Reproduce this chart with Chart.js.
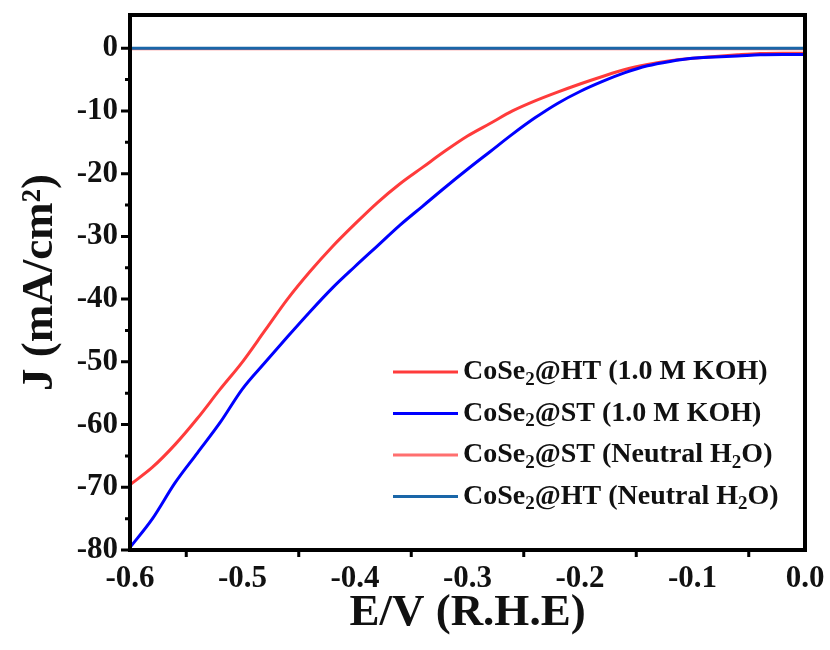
<!DOCTYPE html>
<html>
<head>
<meta charset="utf-8">
<script src="https://cdn.jsdelivr.net/npm/chart.js@4/dist/chart.umd.min.js"></script>
<style>
  html, body { margin: 0; padding: 0; background: #fff; }
  #wrap { width: 830px; height: 650px; }
</style>
</head>
<body>
<div id="wrap"><canvas id="lsv" width="830" height="650"></canvas></div>
<script>
// potential (V vs RHE)
const potential = [-0.60, -0.58, -0.56, -0.54, -0.52, -0.50, -0.48, -0.46, -0.44, -0.42,
  -0.40, -0.38, -0.36, -0.34, -0.32, -0.30, -0.28, -0.26, -0.24, -0.22,
  -0.20, -0.18, -0.16, -0.14, -0.12, -0.10, -0.08, -0.06, -0.04, -0.02, 0.00];

// current density (mA/cm2)
const htKOH = [-69.6, -66.8, -63.2, -59.0, -54.4, -50.0, -45.0, -40.0, -35.6, -31.6,
  -28.0, -24.6, -21.6, -19.0, -16.4, -14.0, -12.0, -10.0, -8.4, -7.0,
  -5.7, -4.5, -3.4, -2.6, -2.0, -1.6, -1.3, -1.05, -0.85, -0.8, -0.8];
const stKOH = [-79.6, -75.0, -69.3, -64.5, -59.7, -54.3, -50.1, -46.0, -42.0, -38.2,
  -34.8, -31.5, -28.2, -25.2, -22.2, -19.3, -16.5, -13.7, -11.1, -8.8,
  -6.9, -5.3, -3.9, -2.8, -2.1, -1.6, -1.4, -1.25, -1.05, -1.0, -1.0];
const stH2O = [-0.1, -0.1, -0.1, -0.1, -0.1, -0.1, -0.1, -0.1, -0.1, -0.1,
  -0.1, -0.1, -0.1, -0.1, -0.1, -0.1, -0.1, -0.1, -0.1, -0.1,
  -0.1, -0.1, -0.1, -0.1, -0.1, -0.1, -0.1, -0.1, -0.1, -0.1, -0.1];
const htH2O = [0, 0, 0, 0, 0, 0, 0, 0, 0, 0,
  0, 0, 0, 0, 0, 0, 0, 0, 0, 0,
  0, 0, 0, 0, 0, 0, 0, 0, 0, 0, 0];

const labels = ['CoSe₂@HT (1.0 M KOH)', 'CoSe₂@ST (1.0 M KOH)', 'CoSe₂@ST (Neutral H₂O)', 'CoSe₂@HT (Neutral H₂O)'];
const colors = ['#ff3b3b', '#0000ff', '#ff6f6f', '#1a66a8'];
const series = [htKOH, stKOH, stH2O, htH2O];
const drawOrder = [2, 1, 3, 0];

const serif = '"Liberation Serif", "Times New Roman", serif';

const datasets = series.map((s, i) => ({
  label: labels[i],
  data: potential.map((x, j) => ({ x: x, y: s[j] })),
  borderColor: colors[i],
  borderWidth: 3,
  pointRadius: 0,
  cubicInterpolationMode: 'monotone',
  order: drawOrder[i]
}));

// frame, tick marks and legend with subscripts
const frame = {
  id: 'frame',
  afterDraw(chart) {
    const { ctx, chartArea: a, scales } = chart;
    const xs = scales.x, ys = scales.y;
    ctx.save();
    ctx.strokeStyle = '#000';
    ctx.lineWidth = 4;
    ctx.strokeRect(a.left, a.top, a.right - a.left, a.bottom - a.top);
    ctx.lineWidth = 3;
    ctx.beginPath();
    for (let v = -80; v <= 0; v += 5) {
      const y = ys.getPixelForValue(v);
      const len = v % 10 === 0 ? 9 : 5;
      ctx.moveTo(a.left - len, y);
      ctx.lineTo(a.left, y);
    }
    for (let v = -0.55; v < 0; v += 0.1) {
      const x = xs.getPixelForValue(v);
      ctx.moveTo(x, a.bottom);
      ctx.lineTo(x, a.bottom + 7);
    }
    ctx.stroke();

    // legend
    const lx = 393, ly = 372, gap = 41.5;
    labels.forEach((t, i) => {
      const y = ly + i * gap;
      ctx.strokeStyle = colors[i];
      ctx.lineWidth = 3;
      ctx.beginPath();
      ctx.moveTo(lx, y);
      ctx.lineTo(lx + 65, y);
      ctx.stroke();
      ctx.fillStyle = '#111';
      ctx.textBaseline = 'middle';
      let x = lx + 70;
      t.split('₂').forEach((part, k) => {
        if (k > 0) {
          ctx.font = 'bold 19px ' + serif;
          ctx.fillText('2', x, y + 8);
          x += ctx.measureText('2').width;
        }
        ctx.font = 'bold 28px ' + serif;
        ctx.fillText(part, x, y);
        x += ctx.measureText(part).width;
      });
    });
    ctx.restore();
  }
};

new Chart(document.getElementById('lsv'), {
  type: 'line',
  data: { datasets: datasets },
  options: {
    responsive: false,
    animation: false,
    layout: { padding: { top: 15, right: 25, left: 0, bottom: 0 } },
    plugins: { legend: { display: false }, tooltip: { enabled: false } },
    scales: {
      x: {
        type: 'linear',
        min: -0.6,
        max: 0,
        afterFit(scale) {
          scale.height = 100;
          scale.paddingLeft = 0;
          scale.paddingRight = 0;
        },
        grid: { display: false, drawTicks: false },
        border: { display: false },
        ticks: {
          stepSize: 0.1,
          padding: 10,
          color: '#111',
          font: { family: serif, size: 31, weight: 'bold' },
          callback: v => v.toFixed(1)
        },
        title: {
          display: true,
          text: 'E/V (R.H.E)',
          color: '#111',
          padding: { top: 0, bottom: 10 },
          font: { family: serif, size: 45, weight: 'bold' }
        }
      },
      y: {
        min: -80,
        max: 5.3,
        afterFit(scale) {
          scale.width = 130;
          scale.paddingTop = 0;
          scale.paddingBottom = 0;
        },
        grid: { display: false, drawTicks: false },
        border: { display: false },
        ticks: {
          stepSize: 10,
          includeBounds: false,
          padding: 12,
          color: '#111',
          font: { family: serif, size: 31, weight: 'bold' }
        },
        title: {
          display: true,
          text: 'J (mA/cm²)',
          color: '#111',
          padding: { top: 13, bottom: 0 },
          font: { family: serif, size: 45, weight: 'bold' }
        }
      }
    }
  },
  plugins: [frame]
});
</script>
</body>
</html>
